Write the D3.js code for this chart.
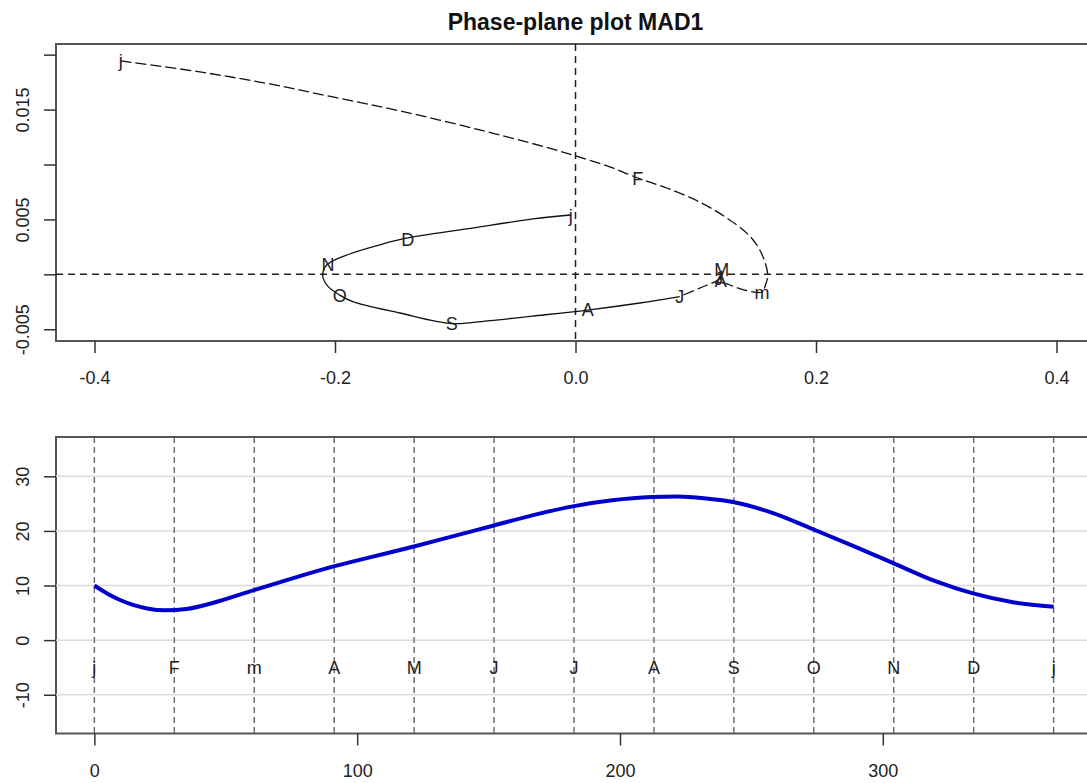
<!DOCTYPE html>
<html>
<head>
<meta charset="utf-8">
<script src="https://cdn.jsdelivr.net/npm/d3@7"></script>
<style>
  body { margin: 0; background: #fff; }
  svg { display: block; font-family: "Liberation Sans", Arial, sans-serif; }
</style>
</head>
<body>
<svg></svg>
<script>
const width = 1087;
const height = 783;

// month letters, one per evaluation point seq(0, 365, length = 13)
const monthLetters = ["j", "F", "m", "A", "M", "J", "J", "A", "S", "O", "N", "D", "j"];
const monthDays = [0, 30.42, 60.83, 91.25, 121.67, 152.08, 182.5, 212.92, 243.33, 273.75, 304.17, 334.58, 365];

// phase-plane path (velocity, acceleration); the first half of the year is dashed
const phaseVel = [
  -0.3782, -0.3124, -0.2542, -0.2018, -0.1461, -0.0796, -0.0255, 0.0002, 0.0285, 0.0518,
  0.0759, 0.1033, 0.1258, 0.1449, 0.1549, 0.1599, 0.1582, 0.1549, 0.1408, 0.1283,
  0.1208, 0.1217, 0.1192, 0.1033, 0.0867,
  0.0535, 0.0102, -0.0355, -0.0713, -0.1029, -0.1461, -0.1852, -0.196, -0.206, -0.2102,
  -0.2069, -0.1878, -0.1603, -0.1395, -0.0904, -0.0355, -0.0039
];
const phaseAcc = [
  0.01943, 0.01843, 0.01733, 0.01615, 0.01488, 0.01315, 0.01160, 0.01078, 0.00978, 0.00877,
  0.00786, 0.00658, 0.00513, 0.00349, 0.00185, -0.00006, -0.00088, -0.00161, -0.00143, -0.00097,
  -0.00061, 0.0003, -0.00043, -0.00125, -0.00202,
  -0.00261, -0.00325, -0.0038, -0.00421, -0.00448, -0.00352, -0.00248, -0.00189, -0.00107, -0.00015,
  0.00085, 0.00185, 0.00276, 0.00331, 0.00413, 0.00504, 0.0054
];
const dashedCount = 25;

// where the month letters sit on the phase curve
const labelVel = [-0.3782, 0.0518, 0.1551, 0.1208, 0.1217, 0.1192, 0.0867, 0.0102, -0.1029, -0.196, -0.2058, -0.1395, -0.0039];
const labelAcc = [0.01943, 0.00868, -0.0017, -0.00061, 0.00039, -0.00043, -0.00202, -0.00325, -0.00453, -0.00198, 0.00085, 0.00312, 0.00531];

// temperature curve in the lower panel
const days = [0, 5, 10, 15, 20, 27, 35, 45, 61, 76, 91, 106, 122, 137, 152, 167, 182, 197, 212, 222, 232, 243, 258, 273, 288, 304, 320, 334, 350, 365];
const temps = [10.0, 8.5, 7.3, 6.4, 5.8, 5.45, 5.7, 6.8, 9.2, 11.4, 13.5, 15.3, 17.2, 19.1, 21.0, 22.9, 24.5, 25.6, 26.2, 26.3, 26.0, 25.3, 23.3, 20.4, 17.4, 14.1, 10.8, 8.6, 6.9, 6.1];

const phaseXTicks = [-0.4, -0.2, 0, 0.2, 0.4];
const phaseYTicks = [-0.005, 0, 0.005, 0.01, 0.015, 0.02];
const phaseYLabelled = [-0.005, 0.005, 0.015];
const dayTicks = [0, 100, 200, 300];
const tempTicks = [-10, 0, 10, 20, 30];

const topBox = { left: 56, right: 1095, top: 44, bottom: 341 };
const botBox = { left: 56, right: 1092, top: 437, bottom: 733.5 };

const svg = d3.select("svg").attr("width", width).attr("height", height);

let xPhase, yPhase, xDay, yTemp;

// R prints a plain hyphen for negatives
const hyphen = (f) => (d) => f(d).replace("\u2212", "-");

const generateScales = () => {
  xPhase = d3.scaleLinear().domain([-0.432, 0.432]).range([topBox.left, topBox.right]);
  yPhase = d3.scaleLinear().domain([-0.00607, 0.02097]).range([topBox.bottom, topBox.top]);
  xDay = d3.scaleLinear().domain([-14.6, 379.6]).range([botBox.left, botBox.right]);
  yTemp = d3.scaleLinear().domain([-17.1, 37.2]).range([botBox.bottom, botBox.top]);
};

const drawBox = (b, id) => {
  svg.append("clipPath").attr("id", id)
    .append("rect")
    .attr("x", b.left).attr("y", b.top)
    .attr("width", b.right - b.left).attr("height", b.bottom - b.top);
  svg.append("rect")
    .attr("x", b.left).attr("y", b.top)
    .attr("width", b.right - b.left).attr("height", b.bottom - b.top)
    .attr("fill", "none").attr("stroke", "#555").attr("stroke-width", 2);
};

const styleAxis = (g) => {
  g.select(".domain").remove();
  g.selectAll("line").attr("stroke", "#333").attr("stroke-width", 1.5);
  g.selectAll("text").attr("fill", "#222").attr("font-size", 18).attr("font-family", null);
};

const drawBottomAxis = (scale, ticks, fmt, y) => {
  const g = svg.append("g")
    .attr("transform", `translate(0, ${y})`)
    .call(d3.axisBottom(scale).tickValues(ticks).tickFormat(fmt).tickSize(12).tickSizeOuter(0));
  styleAxis(g);
  g.selectAll("text").attr("y", 43).attr("dy", 0);
};

const drawLeftAxis = (scale, ticks, fmt, x) => {
  const g = svg.append("g")
    .attr("transform", `translate(${x}, 0)`)
    .call(d3.axisLeft(scale).tickValues(ticks).tickFormat(fmt).tickSize(12).tickSizeOuter(0));
  styleAxis(g);
  g.selectAll("text")
    .attr("transform", "rotate(-90)")
    .attr("x", 0).attr("y", -(x - 29)).attr("dy", 0)
    .attr("text-anchor", "middle");
};

const drawTitle = () => {
  svg.append("text")
    .attr("x", (topBox.left + topBox.right) / 2)
    .attr("y", 30)
    .attr("text-anchor", "middle")
    .attr("font-size", 23)
    .attr("font-weight", "bold")
    .attr("fill", "#111")
    .text("Phase-plane plot MAD1");
};

const drawPhase = () => {
  drawBox(topBox, "clip-top");
  const plot = svg.append("g").attr("clip-path", "url(#clip-top)");

  // zero reference lines
  plot.append("line")
    .attr("x1", topBox.left).attr("x2", topBox.right)
    .attr("y1", yPhase(0)).attr("y2", yPhase(0))
    .attr("stroke", "#222").attr("stroke-width", 1.5).attr("stroke-dasharray", "7,5");
  plot.append("line")
    .attr("x1", xPhase(0)).attr("x2", xPhase(0))
    .attr("y1", topBox.top).attr("y2", topBox.bottom)
    .attr("stroke", "#222").attr("stroke-width", 1.5).attr("stroke-dasharray", "7,5");

  const pts = phaseVel.map((v, i) => [v, phaseAcc[i]]);
  const line = d3.line()
    .x((d) => xPhase(d[0]))
    .y((d) => yPhase(d[1]))
    .curve(d3.curveCatmullRom.alpha(0.5));

  plot.append("path")
    .datum(pts.slice(0, dashedCount))
    .attr("d", line)
    .attr("fill", "none").attr("stroke", "#111").attr("stroke-width", 1.3)
    .attr("stroke-dasharray", "11,4");
  plot.append("path")
    .datum(pts.slice(dashedCount - 1))
    .attr("d", line)
    .attr("fill", "none").attr("stroke", "#111").attr("stroke-width", 1.3);

  plot.selectAll("text.month")
    .data(monthLetters)
    .enter()
    .append("text")
    .attr("class", "month")
    .attr("x", (d, i) => xPhase(labelVel[i]))
    .attr("y", (d, i) => yPhase(labelAcc[i]))
    .attr("dy", "0.35em")
    .attr("text-anchor", "middle")
    .attr("font-size", 18)
    .attr("fill", "#222")
    .text((d) => d);

  drawBottomAxis(xPhase, phaseXTicks, hyphen(d3.format(".1f")), topBox.bottom);
  drawLeftAxis(yPhase, phaseYTicks,
    (d) => (phaseYLabelled.includes(d) ? hyphen(d3.format(".3f"))(d) : ""),
    topBox.left);
};

const drawTemps = () => {
  drawBox(botBox, "clip-bot");
  const plot = svg.append("g").attr("clip-path", "url(#clip-bot)");

  plot.selectAll("line.grid")
    .data(tempTicks)
    .enter()
    .append("line")
    .attr("class", "grid")
    .attr("x1", botBox.left).attr("x2", botBox.right)
    .attr("y1", (d) => yTemp(d)).attr("y2", (d) => yTemp(d))
    .attr("stroke", "#dcdcdc").attr("stroke-width", 1.5);

  plot.selectAll("line.month")
    .data(monthDays)
    .enter()
    .append("line")
    .attr("class", "month")
    .attr("x1", (d) => xDay(d)).attr("x2", (d) => xDay(d))
    .attr("y1", botBox.top).attr("y2", botBox.bottom)
    .attr("stroke", "#666").attr("stroke-width", 1.4).attr("stroke-dasharray", "6,4");

  plot.selectAll("text.month")
    .data(monthLetters)
    .enter()
    .append("text")
    .attr("class", "month")
    .attr("x", (d, i) => xDay(monthDays[i]))
    .attr("y", yTemp(-5))
    .attr("dy", "0.35em")
    .attr("text-anchor", "middle")
    .attr("font-size", 18)
    .attr("fill", "#222")
    .text((d) => d);

  const line = d3.line()
    .x((d) => xDay(d))
    .y((d, i) => yTemp(temps[i]))
    .curve(d3.curveMonotoneX);

  plot.append("path")
    .datum(days)
    .attr("d", line)
    .attr("fill", "none").attr("stroke", "#0000cd").attr("stroke-width", 4);

  drawBottomAxis(xDay, dayTicks, d3.format("d"), botBox.bottom);
  drawLeftAxis(yTemp, tempTicks, (d) => String(d), botBox.left);
};

generateScales();
drawTitle();
drawPhase();
drawTemps();
</script>
</body>
</html>
